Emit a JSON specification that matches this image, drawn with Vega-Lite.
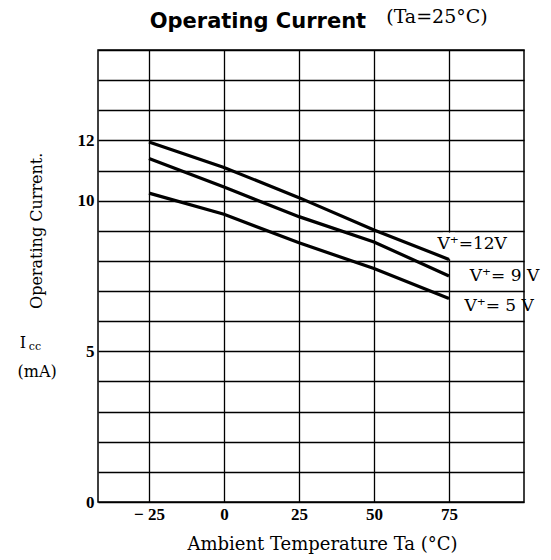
{
  "$schema": "https://vega.github.io/schema/vega-lite/v6.json",
  "width": 426,
  "height": 452,
  "autosize": {"type": "none"},
  "padding": {"left": 98, "top": 50, "right": 27, "bottom": 58},
  "background": "white",
  "config": {"view": {"stroke": "black", "strokeWidth": 1.5}},
  "datasets": {
    "curves": [
      {"t": -25, "i": 11.95, "v": "12V"}, {"t": 0, "i": 11.1, "v": "12V"}, {"t": 25, "i": 10.1, "v": "12V"}, {"t": 50, "i": 9.03, "v": "12V"}, {"t": 75, "i": 8.05, "v": "12V"},
      {"t": -25, "i": 11.4, "v": "9V"}, {"t": 0, "i": 10.45, "v": "9V"}, {"t": 25, "i": 9.47, "v": "9V"}, {"t": 50, "i": 8.63, "v": "9V"}, {"t": 75, "i": 7.5, "v": "9V"},
      {"t": -25, "i": 10.25, "v": "5V"}, {"t": 0, "i": 9.55, "v": "5V"}, {"t": 25, "i": 8.6, "v": "5V"}, {"t": 50, "i": 7.75, "v": "5V"}, {"t": 75, "i": 6.75, "v": "5V"}
    ],
    "labels": [
      {"t": 82.7, "i": 8.55, "text": "V⁺=12V"},
      {"t": 93.5, "i": 7.5, "text": "V⁺= 9 V"},
      {"t": 91.7, "i": 6.5, "text": "V⁺= 5 V"}
    ]
  },
  "encoding": {
    "x": {"field": "t", "type": "quantitative",
      "scale": {"domain": [-42, 100], "nice": false, "zero": false},
      "axis": {"values": [-25, 0, 25, 50, 75], "grid": true, "gridColor": "black", "gridOpacity": 1, "gridWidth": 1.3, "ticks": false, "domain": false,
        "labelExpr": "datum.value < 0 ? '− ' + format(-datum.value, 'd') : datum.label",
        "labelFont": "Liberation Serif", "labelFontWeight": "bold", "labelFontSize": 17, "labelColor": "black", "labelPadding": 4,
        "title": "Ambient Temperature Ta (°C)", "titleFont": "DejaVu Serif", "titleFontWeight": "normal", "titleFontSize": 18, "titleColor": "black", "titlePadding": 13, "titleX": 224}},
    "y": {"field": "i", "type": "quantitative",
      "scale": {"domain": [0, 15], "nice": false, "zero": true},
      "axis": {"values": [0, 1, 2, 3, 4, 5, 6, 7, 8, 9, 10, 11, 12, 13, 14, 15], "grid": true, "gridColor": "black", "gridOpacity": 1, "gridWidth": 1.3, "ticks": false, "domain": false,
        "labelExpr": "indexof([0, 5, 10, 12], datum.value) >= 0 ? datum.label : ''",
        "labelFont": "Liberation Serif", "labelFontWeight": "bold", "labelFontSize": 17, "labelColor": "black", "labelPadding": 4, "title": null}}
  },
  "layer": [
    {
      "data": {"values": [{"t": 73, "t2": 77, "i": 8.06, "i2": 8.94}]},
      "mark": {"type": "rect", "fill": "white"},
      "encoding": {"x2": {"field": "t2"}, "y2": {"field": "i2"}}
    },
    {
      "data": {"name": "curves"},
      "mark": {"type": "line", "color": "black", "strokeWidth": 3.2},
      "encoding": {"detail": {"field": "v"}}
    },
    {
      "data": {"name": "labels"},
      "mark": {"type": "text", "font": "DejaVu Serif", "fontSize": 17, "color": "black", "align": "center", "baseline": "middle"},
      "encoding": {"text": {"field": "text"}}
    },
    {
      "data": {"values": [{"t": 11.3, "i": 15.73, "text": "Operating Current"}]},
      "mark": {"type": "text", "font": "DejaVu Sans", "fontWeight": "bold", "fontSize": 21, "color": "black", "align": "center", "baseline": "alphabetic"},
      "encoding": {"text": {"field": "text"}}
    },
    {
      "data": {"values": [{"t": 71, "i": 15.9, "text": "(Ta=25°C)"}]},
      "mark": {"type": "text", "font": "DejaVu Serif", "fontSize": 19, "color": "black", "align": "center", "baseline": "alphabetic"},
      "encoding": {"text": {"field": "text"}}
    },
    {
      "data": {"values": [{"t": -62.3, "i": 9.0, "text": "Operating Current."}]},
      "mark": {"type": "text", "font": "DejaVu Serif", "fontSize": 16, "color": "black", "align": "center", "baseline": "middle", "angle": 270},
      "encoding": {"text": {"field": "text"}}
    },
    {
      "data": {"values": [{"t": -67, "i": 5.28, "text": "I"}, {"t": -62.3, "i": 4.31, "text": "(mA)"}]},
      "mark": {"type": "text", "font": "DejaVu Serif", "fontSize": 16, "color": "black", "align": "center", "baseline": "middle"},
      "encoding": {"text": {"field": "text"}}
    },
    {
      "data": {"values": [{"t": -63, "i": 5.15, "text": "cc"}]},
      "mark": {"type": "text", "font": "DejaVu Serif", "fontSize": 11, "color": "black", "align": "center", "baseline": "middle"},
      "encoding": {"text": {"field": "text"}}
    }
  ]
}
